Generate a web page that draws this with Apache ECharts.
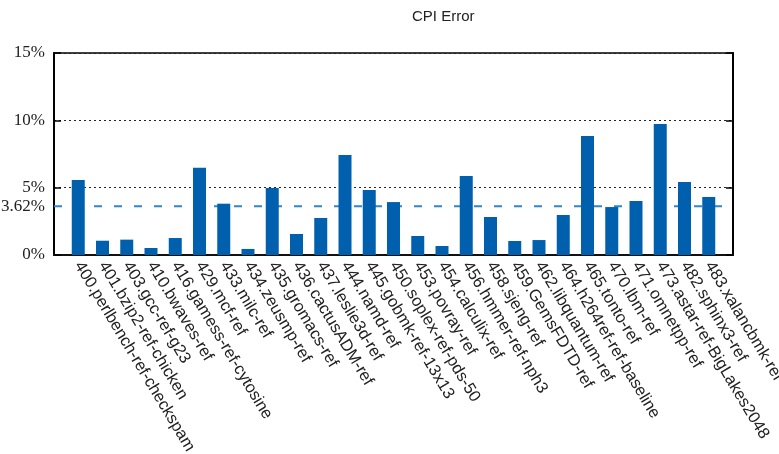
<!DOCTYPE html>
<html>
<head>
<meta charset="utf-8">
<script src="https://cdn.jsdelivr.net/npm/echarts@6/dist/echarts.min.js"></script>
<style>html,body{margin:0;padding:0;background:#fff}#c{width:779px;height:454px}</style>
</head>
<body>
<div id="c"></div>
<script>
const categories = [
  '400.perlbench-ref-checkspam','401.bzip2-ref-chicken','403.gcc-ref-g23','410.bwaves-ref',
  '416.gamess-ref-cytosine','429.mcf-ref','433.milc-ref','434.zeusmp-ref','435.gromacs-ref',
  '436.cactusADM-ref','437.leslie3d-ref','444.namd-ref','445.gobmk-ref-13x13','450.soplex-ref-pds-50',
  '453.povray-ref','454.calculix-ref','456.hmmer-ref-nph3','458.sjeng-ref','459.GemsFDTD-ref',
  '462.libquantum-ref','464.h264ref-ref-baseline','465.tonto-ref','470.lbm-ref','471.omnetpp-ref',
  '473.astar-ref-BigLakes2048','482.sphinx3-ref','483.xalancbmk-ref'
];
const cpiError = [
  5.57, 1.06, 1.14, 0.52, 1.26, 6.48, 3.81, 0.45, 4.97, 1.56, 2.75, 7.42, 4.83, 3.93,
  1.41, 0.67, 5.86, 2.82, 1.04, 1.11, 2.97, 8.83, 3.56, 4.01, 9.73, 5.42, 4.31
];
const meanError = 3.62;
const yTicks = [0, 5, 10, 15];

const chart = echarts.init(document.getElementById('c'));
const n = categories.length;
chart.setOption({
  animation: false,
  title: {
    text: 'CPI Error', left: 407, top: 4,
    textStyle: { fontFamily: 'Liberation Sans', fontSize: 15, fontWeight: 'normal', color: '#222' }
  },
  grid: {
    left: 54, right: 46, top: 53, bottom: 199, outerBoundsMode: 'none', containLabel: false,
    show: true, borderColor: '#000', borderWidth: 1.5, backgroundColor: 'transparent'
  },
  xAxis: {
    type: 'value', min: -1, max: n, interval: 1,
    axisLine: { show: true, onZero: false, lineStyle: { color: '#111', width: 2 } },
    axisTick: { show: false },
    splitLine: { show: false },
    axisLabel: {
      rotate: -59, margin: 8, interval: 0,
      fontFamily: 'Liberation Sans', fontSize: 16.5, color: '#222',
      showMinLabel: true, showMaxLabel: true,
      formatter: v => (v >= 0 && v < n) ? categories[v] : ''
    }
  },
  yAxis: [{
    type: 'value', min: 0, max: 15, interval: 5, position: 'left',
    axisLine: { show: true, onZero: false, lineStyle: { color: '#000', width: 2 } },
    axisTick: { show: true, inside: true, length: 7, customValues: yTicks, lineStyle: { color: '#000', width: 1.5 } },
    splitLine: { show: true, lineStyle: { type: [2, 3], color: '#222', width: 1 } },
    axisLabel: {
      customValues: [0, meanError, 5, 10, 15],
      formatter: v => v + '%', margin: 9,
      fontFamily: 'Liberation Serif', fontSize: 17, color: '#222'
    }
  }, {
    type: 'value', min: 0, max: 15, interval: 5, position: 'right',
    axisLine: { show: true, onZero: false, lineStyle: { color: '#000', width: 2 } },
    axisTick: { show: true, inside: true, length: 7, lineStyle: { color: '#000', width: 1.5 } },
    splitLine: { show: false },
    axisLabel: { show: false }
  }],
  series: [{
    type: 'line', z: 1, symbol: 'none', silent: true,
    data: [[-1, meanError], [n, meanError]],
    lineStyle: { color: '#2f86d4', width: 2, type: [8, 12] }
  }, {
    type: 'bar', z: 3, barWidth: 13,
    itemStyle: { color: '#0060ad' },
    data: cpiError.map((v, i) => [i, v])
  }]
});
</script>
</body>
</html>
